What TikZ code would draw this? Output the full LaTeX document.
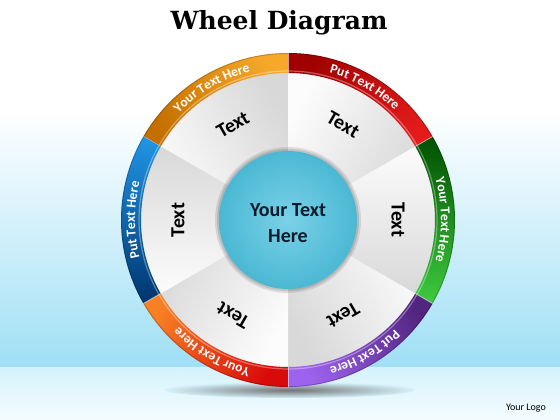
\documentclass[tikz,border=0pt]{standalone}
\usepackage{fontspec}
\setmainfont{Carlito}
\newfontfamily\titlefont{DejaVu Serif}
\usetikzlibrary{calc,decorations.text}
\definecolor{skyB}{HTML}{9FDFF5}
\definecolor{floorT}{HTML}{D5F2FB}
\definecolor{floorB}{HTML}{F5FCFF}
\definecolor{secL}{HTML}{FCFCFC}
\definecolor{secD}{HTML}{D8D8D8}
\definecolor{cirI}{HTML}{7AD1E7}
\definecolor{cirO}{HTML}{4BB8D3}
\definecolor{ctxt}{HTML}{0B1B2B}
\definecolor{orD}{HTML}{C46F00}
\definecolor{orL}{HTML}{F6A829}
\definecolor{rdD}{HTML}{A00000}
\definecolor{rdL}{HTML}{E31B1B}
\definecolor{gnD}{HTML}{004F00}
\definecolor{gnL}{HTML}{3FCB3F}
\definecolor{ppD}{HTML}{52257F}
\definecolor{ppL}{HTML}{9D63EE}
\definecolor{roD}{HTML}{D80A0A}
\definecolor{roL}{HTML}{F77F24}
\definecolor{blD}{HTML}{00346E}
\definecolor{blL}{HTML}{2196E6}
\newcommand\rfont{\bfseries\fontsize{13.5}{15}\selectfont}
\tikzset{
  ringtxt/.style={decorate, decoration={text along path, text align=center, text color=white, text={|\rfont|#1}}},
  sectxt/.style={font=\bfseries\fontsize{20}{24}\selectfont, text=black, inner sep=0pt},
}
\begin{document}
\begin{tikzpicture}[x=1pt,y=1pt]
\useasboundingbox (0,0) rectangle (560,420);
% background
\fill[white] (0,0) rectangle (560,420);
\shade[top color=white, bottom color=skyB] (0,52) rectangle (560,310);
\shade[top color=floorT, bottom color=floorB] (0,0) rectangle (560,52);
\shade[inner color=black!55, outer color=floorT] (290,30) ellipse[x radius=125pt, y radius=8pt];
\coordinate (C) at (288,200);
% white sectors
\foreach \a in {150,90,30,-30,-90,-150} {
  \pgfmathsetmacro\b{\a-60}
  \pgfmathsetmacro\m{\a-30}
  \shade[left color=secL, right color=secD, shading angle=\m]
    (C) -- ($(C)+(\a:148pt)$) arc[start angle=\a, end angle=\b, radius=148pt] -- cycle;
}
% ring segments
\foreach \a/\dk/\lt in {150/orD/orL, 90/rdD/rdL, 30/gnD/gnL, -30/ppD/ppL, -90/roD/roL, -150/blD/blL} {
  \pgfmathsetmacro\b{\a-60}
  \pgfmathsetmacro\m{\a-30}
  \shade[left color=\dk, right color=\lt, shading angle=\m]
    ($(C)+(\a:167pt)$) arc[start angle=\a, end angle=\b, radius=167pt]
    -- ($(C)+(\b:147pt)$) arc[start angle=\b, end angle=\a, radius=147pt] -- cycle;
  \draw[white, opacity=0.35, line width=1.2pt] ($(C)+(\a:149pt)$) arc[start angle=\a, end angle=\b, radius=149pt];
  \draw[black, opacity=0.2, line width=1pt] ($(C)+(\a:166.5pt)$) arc[start angle=\a, end angle=\b, radius=166.5pt];
  \draw[white, opacity=0.6, line width=0.8pt] ($(C)+(\a:147pt)$) -- ($(C)+(\a:167pt)$);
}
% ring texts
\path[ringtxt={Your Text Here}] ($(C)+(149:153pt)$) arc[start angle=149, end angle=91, radius=153pt];
\path[ringtxt={Put Text Here}] ($(C)+(89:153pt)$) arc[start angle=89, end angle=31, radius=153pt];
\path[ringtxt={Your Text Here}] ($(C)+(29:153pt)$) arc[start angle=29, end angle=-29, radius=153pt];
\path[ringtxt={Put Text Here}] ($(C)+(-31:153pt)$) arc[start angle=-31, end angle=-89, radius=153pt];
\path[ringtxt={Your Text Here}] ($(C)+(-91:153pt)$) arc[start angle=-91, end angle=-149, radius=153pt];
\path[ringtxt={Put Text Here}] ($(C)+(209:153pt)$) arc[start angle=209, end angle=151, radius=153pt];
% center circle
\fill[black, opacity=0.10] (C) circle[radius=73pt];
\fill[black, opacity=0.12] (C) circle[radius=71pt];
\shade[inner color=cirI, outer color=cirO] (C) circle[radius=69pt];
\node[align=center, font=\bfseries\fontsize{20}{26}\selectfont, text=ctxt] (ctr) at ($(C)+(0,-3)$) {Your Text\\Here};
% sector labels
\node[sectxt, rotate=30]   (s1) at ($(C)+(120:110pt)$) {Text};
\node[sectxt, rotate=-30]  (s2) at ($(C)+(60:110pt)$) {Text};
\node[sectxt, rotate=-90]  (s3) at ($(C)+(0:110pt)$) {Text};
\node[sectxt, rotate=-150] (s4) at ($(C)+(-60:110pt)$) {Text};
\node[sectxt, rotate=150]  (s5) at ($(C)+(-120:110pt)$) {Text};
\node[sectxt, rotate=90]   (s6) at ($(C)+(180:110pt)$) {Text};
% title and logo
\node[font=\titlefont\bfseries\fontsize{25}{30}\selectfont, anchor=base] (title) at (279,390) {Wheel Diagram};
\node[font=\fontsize{10}{12}\selectfont, anchor=base east, inner sep=0pt] (logo) at (546,9) {Your Logo};
\end{tikzpicture}
\end{document}
